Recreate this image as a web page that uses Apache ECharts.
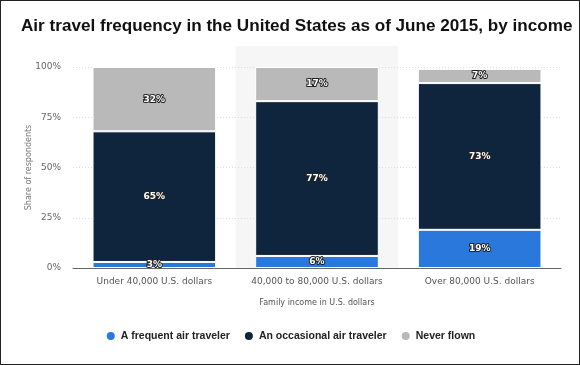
<!DOCTYPE html>
<html><head><meta charset="utf-8">
<script src="https://cdn.jsdelivr.net/npm/echarts@6/dist/echarts.min.js"></script>
<style>
html,body{margin:0;padding:0;background:#fff;}
#c{width:580px;height:365px;box-sizing:border-box;border:1px solid #222;}
</style></head>
<body><div id="c"></div>
<script>
const categories = ['Under 40,000 U.S. dollars', '40,000 to 80,000 U.S. dollars', 'Over 80,000 U.S. dollars'];
const frequent = [3, 6, 19];
const occasional = [65, 77, 73];
const neverFlown = [32, 17, 7];
const seriesNames = ['A frequent air traveler', 'An occasional air traveler', 'Never flown'];
const colors = ['#2a78dc', '#0f253d', '#b9b9b9'];
const titleText = 'Air travel frequency in the United States as of June 2015, by income';

// fit title to reference width
const titleFont = 'Liberation Sans, Arial, sans-serif';
const cv = document.createElement('canvas').getContext('2d');
cv.font = 'bold 20px ' + titleFont;
const titleSize = Math.min(20, 20 * 552 / cv.measureText(titleText).width);

const chart = echarts.init(document.getElementById('c'), null, {renderer: 'canvas'});
const labelStyle = {
  show: true, position: 'inside', formatter: '{c}%',
  color: '#fff', fontWeight: 'bold', fontSize: 9, fontFamily: 'Verdana, DejaVu Sans, sans-serif',
  textBorderColor: '#222', textBorderWidth: 2
};
function mk(name, data, color) {
  return {
    name, type: 'bar', stack: 'total', data, barWidth: '76%',
    itemStyle: {color, borderColor: '#fff', borderWidth: 1},
    label: labelStyle, emphasis: {disabled: true}
  };
}
chart.setOption({
  animation: false,
  color: colors,
  title: {
    text: titleText,
    left: 15, top: 12,
    textStyle: {fontFamily: titleFont, fontWeight: 'bold', fontSize: titleSize, color: '#111'}
  },
  grid: {left: 72, right: 18, top: 66, bottom: 96},
  xAxis: {
    type: 'category', data: categories,
    name: 'Family income in U.S. dollars', nameLocation: 'middle', nameGap: 31,
    nameTextStyle: {fontSize: 8, color: '#555', fontFamily: 'Verdana, DejaVu Sans, sans-serif'},
    axisLine: {lineStyle: {color: '#666', width: 1}},
    axisTick: {show: false},
    axisLabel: {interval: 0, fontSize: 9, color: '#555', margin: 9, fontFamily: 'Verdana, DejaVu Sans, sans-serif'}
  },
  yAxis: {
    type: 'value', min: 0, max: 100, interval: 25,
    name: 'Share of respondents', nameLocation: 'middle', nameGap: 40, nameMoveOverlap: false,
    nameTextStyle: {fontSize: 8, color: '#777', fontFamily: 'Verdana, DejaVu Sans, sans-serif'},
    axisLabel: {formatter: '{value}%', fontSize: 9, color: '#666', margin: 12, fontFamily: 'Verdana, DejaVu Sans, sans-serif'},
    axisLine: {show: false}, axisTick: {show: false},
    splitLine: {lineStyle: {color: '#ddd', type: [1, 2]}}
  },
  legend: {
    bottom: 17, left: 'center', itemGap: 13, icon: 'circle', itemWidth: 10, itemHeight: 10,
    data: seriesNames,
    textStyle: {fontWeight: 'bold', fontSize: 10.5, color: '#222', fontFamily: 'Liberation Sans, Arial, sans-serif'}
  },
  series: [mk(seriesNames[0], frequent, colors[0]), mk(seriesNames[1], occasional, colors[1]), mk(seriesNames[2], neverFlown, colors[2])]
});

// faint hover-highlight band behind the middle category, positioned via the axis scale
const p0 = chart.convertToPixel({xAxisIndex: 0, yAxisIndex: 0}, [0, 0]);
const p1 = chart.convertToPixel({xAxisIndex: 0, yAxisIndex: 0}, [1, 0]);
const step = p1[0] - p0[0];
chart.setOption({
  graphic: [{
    type: 'rect', z: -1, silent: true,
    shape: {x: p1[0] - step / 2, y: 45, width: step, height: p0[1] - 45},
    style: {fill: '#f6f6f6'}
  }]
});
</script></body></html>
